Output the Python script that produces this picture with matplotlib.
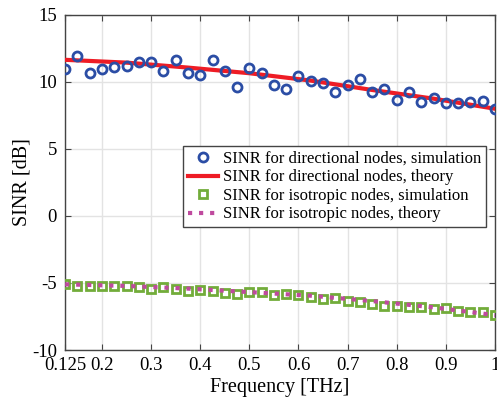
import numpy as np
import matplotlib
matplotlib.use('Agg')
from matplotlib import pyplot as plt

# frequency grid (THz) for the simulation points
freq_sim = [0.125, 0.15, 0.175, 0.2, 0.225, 0.25, 0.275, 0.3, 0.325, 0.35, 0.375, 0.4,
            0.425, 0.45, 0.475, 0.5, 0.525, 0.55, 0.575, 0.6, 0.625, 0.65, 0.675, 0.7,
            0.725, 0.75, 0.775, 0.8, 0.825, 0.85, 0.875, 0.9, 0.925, 0.95, 0.975, 1.0]
dir_sim = [10.97, 11.94, 10.65, 11.0, 11.14, 11.17, 11.47, 11.47, 10.82, 11.62, 10.7, 10.48,
           11.64, 10.8, 9.63, 11.07, 10.65, 9.8, 9.45, 10.45, 10.1, 9.93, 9.23, 9.75,
           10.2, 9.25, 9.48, 8.68, 9.23, 8.51, 8.83, 8.43, 8.43, 8.51, 8.56, 7.99]
iso_sim = [-5.07, -5.2, -5.2, -5.25, -5.2, -5.2, -5.32, -5.45, -5.32, -5.45, -5.62, -5.52,
           -5.6, -5.72, -5.8, -5.7, -5.7, -5.87, -5.8, -5.87, -6.04, -6.2, -6.09, -6.32,
           -6.39, -6.57, -6.74, -6.69, -6.77, -6.82, -6.94, -6.9, -7.09, -7.14, -7.19, -7.39]

# theory curves
freq_th = [0.125, 0.25, 0.375, 0.5, 0.625, 0.75, 0.875, 1.0]
dir_th = [11.65, 11.44, 11.07, 10.65, 10.1, 9.4, 8.75, 8.0]
iso_th = [-5.1, -5.22, -5.42, -5.68, -5.95, -6.35, -6.82, -7.4]

xticks = [0.125, 0.2, 0.3, 0.4, 0.5, 0.6, 0.7, 0.8, 0.9, 1.0]
xticklabels = ['0.125', '0.2', '0.3', '0.4', '0.5', '0.6', '0.7', '0.8', '0.9', '1']
yticks = [-10, -5, 0, 5, 10, 15]

plt.rcParams['font.family'] = ['Liberation Serif', 'DejaVu Serif']
plt.rcParams['axes.unicode_minus'] = False

fig = plt.figure(figsize=(4.97, 4.03), dpi=100)
ax = fig.add_axes([0.131, 0.1315, 0.865, 0.8315])

ax.plot(freq_sim, dir_sim, 'o', ms=6.5, mfc='none', mec='#2B4DA5', mew=2,
        label='SINR for directional nodes, simulation', zorder=4)
ax.plot(freq_th, dir_th, '-', color='#EE1C25', lw=3,
        label='SINR for directional nodes, theory', zorder=3)
ax.plot(freq_sim, iso_sim, 's', ms=5.5, mfc='none', mec='#72AC3A', mew=2,
        label='SINR for isotropic nodes, simulation', zorder=3)
ax.plot(freq_th, iso_th, ':', color='#BF4A9E', lw=3,
        label='SINR for isotropic nodes, theory', zorder=4)

ax.set_xlim(0.125, 1.0)
ax.set_ylim(-10, 15)
ax.set_xticks(xticks)
ax.set_xticklabels(xticklabels)
ax.set_yticks(yticks)
ax.grid(True, color='#E3E3E3', lw=1)
ax.set_axisbelow(True)
ax.tick_params(direction='in', top=True, right=True, labelsize=13.5, length=4,
               color='#444444')
ax.tick_params(axis='x', pad=5)
ax.tick_params(axis='y', pad=6)
for s in ax.spines.values():
    s.set_color('#444444')
    s.set_linewidth(1)

ax.set_xlabel('Frequency [THz]', fontsize=14.5, labelpad=3)
ax.set_ylabel('SINR [dB]', fontsize=14.5, labelpad=0)

leg = ax.legend(loc='upper right', bbox_to_anchor=(0.979, 0.609), fontsize=12,
                fancybox=False, framealpha=1, edgecolor='#444444',
                handlelength=1.8, handletextpad=0.3, borderpad=0.3,
                labelspacing=0.15, borderaxespad=0)
leg.get_frame().set_linewidth(1)

fig.savefig('out.png', dpi=100)
